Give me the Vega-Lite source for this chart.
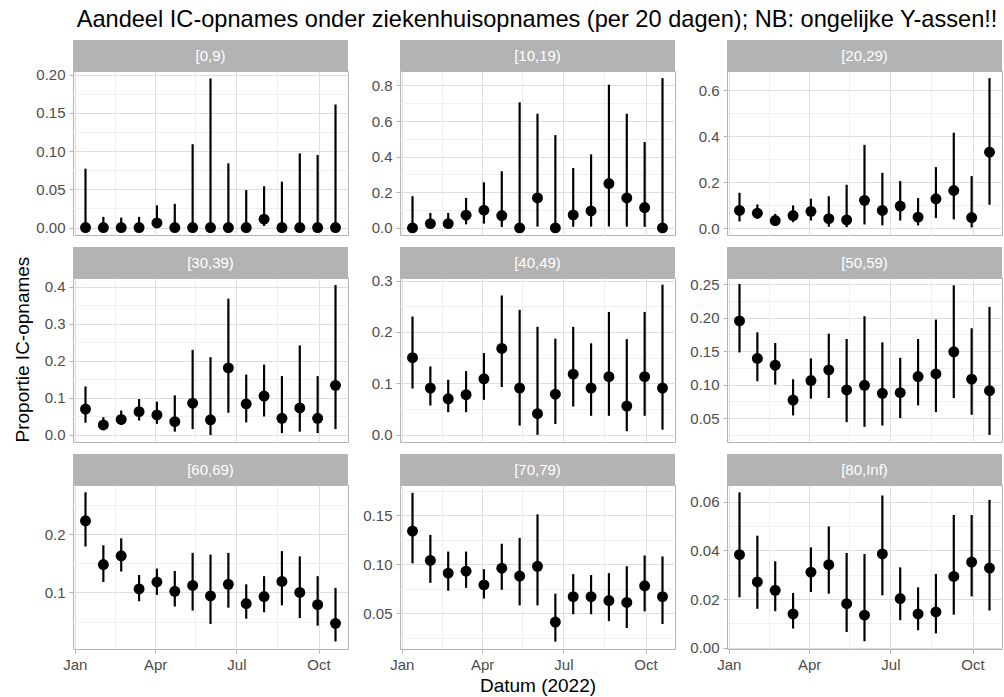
{
"$schema": "https://vega.github.io/schema/vega-lite/v6.json",
"background": "white",
"padding": {"left": 12, "top": 8, "right": 2, "bottom": 5},
"title": {"text": "Aandeel IC-opnames onder ziekenhuisopnames (per 20 dagen); NB: ongelijke Y-assen!!", "anchor": "start", "fontSize": 23.6, "fontWeight": "normal", "color": "black", "offset": 8, "dx": 64},
"config": {
  "font": "Liberation Sans",
  "view": {"stroke": "#B3B3B3", "strokeWidth": 1},
  "axis": {"domain": false, "labelFont": "Liberation Sans", "labelFontSize": 15, "labelColor": "#4D4D4D", "tickColor": "#B3B3B3", "tickSize": 4, "tickWidth": 1, "labelPadding": 4, "titleFont": "Liberation Sans", "titleFontSize": 19, "titleFontWeight": "normal", "titleColor": "black", "labelOverlap": false, "labelFlush": false, "labelBound": false}
},
"data": {"values": [
{"group":"[0,9)","date":"2022-01-13T00:00","p":0,"lo":0,"hi":0.077},
{"group":"[0,9)","date":"2022-02-02T00:00","p":0,"lo":0,"hi":0.014},
{"group":"[0,9)","date":"2022-02-22T00:00","p":0,"lo":0,"hi":0.013},
{"group":"[0,9)","date":"2022-03-14T00:00","p":0,"lo":0,"hi":0.014},
{"group":"[0,9)","date":"2022-04-03T00:00","p":0.006,"lo":0.001,"hi":0.029},
{"group":"[0,9)","date":"2022-04-23T00:00","p":0,"lo":0,"hi":0.031},
{"group":"[0,9)","date":"2022-05-13T00:00","p":0,"lo":0,"hi":0.109},
{"group":"[0,9)","date":"2022-06-02T00:00","p":0,"lo":0,"hi":0.195},
{"group":"[0,9)","date":"2022-06-22T00:00","p":0,"lo":0,"hi":0.084},
{"group":"[0,9)","date":"2022-07-12T00:00","p":0,"lo":0,"hi":0.049},
{"group":"[0,9)","date":"2022-08-01T00:00","p":0.011,"lo":0.002,"hi":0.054},
{"group":"[0,9)","date":"2022-08-21T00:00","p":0,"lo":0,"hi":0.060},
{"group":"[0,9)","date":"2022-09-10T00:00","p":0,"lo":0,"hi":0.097},
{"group":"[0,9)","date":"2022-09-30T00:00","p":0,"lo":0,"hi":0.095},
{"group":"[0,9)","date":"2022-10-20T00:00","p":0,"lo":0,"hi":0.161},
{"group":"[10,19)","date":"2022-01-13T00:00","p":0,"lo":0,"hi":0.178},
{"group":"[10,19)","date":"2022-02-02T00:00","p":0.024,"lo":0.005,"hi":0.084},
{"group":"[10,19)","date":"2022-02-22T00:00","p":0.024,"lo":0.005,"hi":0.084},
{"group":"[10,19)","date":"2022-03-14T00:00","p":0.071,"lo":0.02,"hi":0.168},
{"group":"[10,19)","date":"2022-04-03T00:00","p":0.099,"lo":0.024,"hi":0.256},
{"group":"[10,19)","date":"2022-04-23T00:00","p":0.069,"lo":0.005,"hi":0.318},
{"group":"[10,19)","date":"2022-05-13T00:00","p":0,"lo":0,"hi":0.705},
{"group":"[10,19)","date":"2022-06-02T00:00","p":0.168,"lo":0.007,"hi":0.641},
{"group":"[10,19)","date":"2022-06-22T00:00","p":0,"lo":0,"hi":0.521},
{"group":"[10,19)","date":"2022-07-12T00:00","p":0.073,"lo":0.006,"hi":0.336},
{"group":"[10,19)","date":"2022-08-01T00:00","p":0.095,"lo":0.007,"hi":0.413},
{"group":"[10,19)","date":"2022-08-21T00:00","p":0.249,"lo":0.008,"hi":0.804},
{"group":"[10,19)","date":"2022-09-10T00:00","p":0.168,"lo":0.007,"hi":0.641},
{"group":"[10,19)","date":"2022-09-30T00:00","p":0.114,"lo":0.006,"hi":0.482},
{"group":"[10,19)","date":"2022-10-20T00:00","p":0,"lo":0,"hi":0.841},
{"group":"[20,29)","date":"2022-01-13T00:00","p":0.077,"lo":0.029,"hi":0.154},
{"group":"[20,29)","date":"2022-02-02T00:00","p":0.065,"lo":0.041,"hi":0.103},
{"group":"[20,29)","date":"2022-02-22T00:00","p":0.033,"lo":0.012,"hi":0.062},
{"group":"[20,29)","date":"2022-03-14T00:00","p":0.055,"lo":0.026,"hi":0.099},
{"group":"[20,29)","date":"2022-04-03T00:00","p":0.073,"lo":0.033,"hi":0.128},
{"group":"[20,29)","date":"2022-04-23T00:00","p":0.041,"lo":0.006,"hi":0.139},
{"group":"[20,29)","date":"2022-05-13T00:00","p":0.036,"lo":0.004,"hi":0.189},
{"group":"[20,29)","date":"2022-06-02T00:00","p":0.121,"lo":0.016,"hi":0.363},
{"group":"[20,29)","date":"2022-06-22T00:00","p":0.077,"lo":0.012,"hi":0.241},
{"group":"[20,29)","date":"2022-07-12T00:00","p":0.096,"lo":0.033,"hi":0.205},
{"group":"[20,29)","date":"2022-08-01T00:00","p":0.048,"lo":0.012,"hi":0.131},
{"group":"[20,29)","date":"2022-08-21T00:00","p":0.128,"lo":0.044,"hi":0.266},
{"group":"[20,29)","date":"2022-09-10T00:00","p":0.164,"lo":0.038,"hi":0.416},
{"group":"[20,29)","date":"2022-09-30T00:00","p":0.046,"lo":0.003,"hi":0.227},
{"group":"[20,29)","date":"2022-10-20T00:00","p":0.331,"lo":0.102,"hi":0.654},
{"group":"[30,39)","date":"2022-01-13T00:00","p":0.070,"lo":0.033,"hi":0.131},
{"group":"[30,39)","date":"2022-02-02T00:00","p":0.027,"lo":0.016,"hi":0.048},
{"group":"[30,39)","date":"2022-02-22T00:00","p":0.042,"lo":0.027,"hi":0.066},
{"group":"[30,39)","date":"2022-03-14T00:00","p":0.063,"lo":0.039,"hi":0.097},
{"group":"[30,39)","date":"2022-04-03T00:00","p":0.054,"lo":0.030,"hi":0.090},
{"group":"[30,39)","date":"2022-04-23T00:00","p":0.036,"lo":0.009,"hi":0.107},
{"group":"[30,39)","date":"2022-05-13T00:00","p":0.086,"lo":0.016,"hi":0.230},
{"group":"[30,39)","date":"2022-06-02T00:00","p":0.041,"lo":0.0,"hi":0.210},
{"group":"[30,39)","date":"2022-06-22T00:00","p":0.181,"lo":0.060,"hi":0.368},
{"group":"[30,39)","date":"2022-07-12T00:00","p":0.084,"lo":0.034,"hi":0.163},
{"group":"[30,39)","date":"2022-08-01T00:00","p":0.105,"lo":0.050,"hi":0.190},
{"group":"[30,39)","date":"2022-08-21T00:00","p":0.045,"lo":0.005,"hi":0.159},
{"group":"[30,39)","date":"2022-09-10T00:00","p":0.073,"lo":0.009,"hi":0.242},
{"group":"[30,39)","date":"2022-09-30T00:00","p":0.045,"lo":0.005,"hi":0.159},
{"group":"[30,39)","date":"2022-10-20T00:00","p":0.134,"lo":0.016,"hi":0.405},
{"group":"[40,49)","date":"2022-01-13T00:00","p":0.150,"lo":0.090,"hi":0.230},
{"group":"[40,49)","date":"2022-02-02T00:00","p":0.091,"lo":0.057,"hi":0.133},
{"group":"[40,49)","date":"2022-02-22T00:00","p":0.070,"lo":0.044,"hi":0.107},
{"group":"[40,49)","date":"2022-03-14T00:00","p":0.078,"lo":0.044,"hi":0.124},
{"group":"[40,49)","date":"2022-04-03T00:00","p":0.109,"lo":0.068,"hi":0.159},
{"group":"[40,49)","date":"2022-04-23T00:00","p":0.168,"lo":0.093,"hi":0.271},
{"group":"[40,49)","date":"2022-05-13T00:00","p":0.091,"lo":0.018,"hi":0.243},
{"group":"[40,49)","date":"2022-06-02T00:00","p":0.041,"lo":0.0,"hi":0.210},
{"group":"[40,49)","date":"2022-06-22T00:00","p":0.079,"lo":0.021,"hi":0.187},
{"group":"[40,49)","date":"2022-07-12T00:00","p":0.118,"lo":0.055,"hi":0.210},
{"group":"[40,49)","date":"2022-08-01T00:00","p":0.091,"lo":0.037,"hi":0.178},
{"group":"[40,49)","date":"2022-08-21T00:00","p":0.113,"lo":0.037,"hi":0.239},
{"group":"[40,49)","date":"2022-09-10T00:00","p":0.056,"lo":0.007,"hi":0.186},
{"group":"[40,49)","date":"2022-09-30T00:00","p":0.113,"lo":0.037,"hi":0.239},
{"group":"[40,49)","date":"2022-10-20T00:00","p":0.091,"lo":0.010,"hi":0.292},
{"group":"[50,59)","date":"2022-01-13T00:00","p":0.195,"lo":0.148,"hi":0.250},
{"group":"[50,59)","date":"2022-02-02T00:00","p":0.139,"lo":0.105,"hi":0.178},
{"group":"[50,59)","date":"2022-02-22T00:00","p":0.129,"lo":0.100,"hi":0.162},
{"group":"[50,59)","date":"2022-03-14T00:00","p":0.077,"lo":0.054,"hi":0.108},
{"group":"[50,59)","date":"2022-04-03T00:00","p":0.106,"lo":0.079,"hi":0.139},
{"group":"[50,59)","date":"2022-04-23T00:00","p":0.122,"lo":0.080,"hi":0.176},
{"group":"[50,59)","date":"2022-05-13T00:00","p":0.092,"lo":0.044,"hi":0.168},
{"group":"[50,59)","date":"2022-06-02T00:00","p":0.099,"lo":0.037,"hi":0.202},
{"group":"[50,59)","date":"2022-06-22T00:00","p":0.087,"lo":0.039,"hi":0.163},
{"group":"[50,59)","date":"2022-07-12T00:00","p":0.088,"lo":0.050,"hi":0.140},
{"group":"[50,59)","date":"2022-08-01T00:00","p":0.112,"lo":0.069,"hi":0.168},
{"group":"[50,59)","date":"2022-08-21T00:00","p":0.116,"lo":0.059,"hi":0.197},
{"group":"[50,59)","date":"2022-09-10T00:00","p":0.149,"lo":0.080,"hi":0.248},
{"group":"[50,59)","date":"2022-09-30T00:00","p":0.108,"lo":0.055,"hi":0.184},
{"group":"[50,59)","date":"2022-10-20T00:00","p":0.091,"lo":0.025,"hi":0.216},
{"group":"[60,69)","date":"2022-01-13T00:00","p":0.223,"lo":0.179,"hi":0.272},
{"group":"[60,69)","date":"2022-02-02T00:00","p":0.148,"lo":0.118,"hi":0.181},
{"group":"[60,69)","date":"2022-02-22T00:00","p":0.163,"lo":0.136,"hi":0.193},
{"group":"[60,69)","date":"2022-03-14T00:00","p":0.106,"lo":0.085,"hi":0.130},
{"group":"[60,69)","date":"2022-04-03T00:00","p":0.118,"lo":0.096,"hi":0.141},
{"group":"[60,69)","date":"2022-04-23T00:00","p":0.102,"lo":0.076,"hi":0.137},
{"group":"[60,69)","date":"2022-05-13T00:00","p":0.112,"lo":0.069,"hi":0.168},
{"group":"[60,69)","date":"2022-06-02T00:00","p":0.094,"lo":0.046,"hi":0.165},
{"group":"[60,69)","date":"2022-06-22T00:00","p":0.114,"lo":0.074,"hi":0.168},
{"group":"[60,69)","date":"2022-07-12T00:00","p":0.081,"lo":0.055,"hi":0.114},
{"group":"[60,69)","date":"2022-08-01T00:00","p":0.093,"lo":0.066,"hi":0.128},
{"group":"[60,69)","date":"2022-08-21T00:00","p":0.119,"lo":0.078,"hi":0.171},
{"group":"[60,69)","date":"2022-09-10T00:00","p":0.100,"lo":0.056,"hi":0.162},
{"group":"[60,69)","date":"2022-09-30T00:00","p":0.079,"lo":0.043,"hi":0.128},
{"group":"[60,69)","date":"2022-10-20T00:00","p":0.047,"lo":0.016,"hi":0.108},
{"group":"[70,79)","date":"2022-01-13T00:00","p":0.134,"lo":0.101,"hi":0.173},
{"group":"[70,79)","date":"2022-02-02T00:00","p":0.104,"lo":0.081,"hi":0.130},
{"group":"[70,79)","date":"2022-02-22T00:00","p":0.091,"lo":0.073,"hi":0.113},
{"group":"[70,79)","date":"2022-03-14T00:00","p":0.093,"lo":0.076,"hi":0.113},
{"group":"[70,79)","date":"2022-04-03T00:00","p":0.079,"lo":0.065,"hi":0.095},
{"group":"[70,79)","date":"2022-04-23T00:00","p":0.096,"lo":0.074,"hi":0.121},
{"group":"[70,79)","date":"2022-05-13T00:00","p":0.088,"lo":0.058,"hi":0.127},
{"group":"[70,79)","date":"2022-06-02T00:00","p":0.098,"lo":0.058,"hi":0.151},
{"group":"[70,79)","date":"2022-06-22T00:00","p":0.041,"lo":0.021,"hi":0.070},
{"group":"[70,79)","date":"2022-07-12T00:00","p":0.067,"lo":0.049,"hi":0.090},
{"group":"[70,79)","date":"2022-08-01T00:00","p":0.067,"lo":0.049,"hi":0.089},
{"group":"[70,79)","date":"2022-08-21T00:00","p":0.063,"lo":0.042,"hi":0.091},
{"group":"[70,79)","date":"2022-09-10T00:00","p":0.061,"lo":0.035,"hi":0.098},
{"group":"[70,79)","date":"2022-09-30T00:00","p":0.078,"lo":0.052,"hi":0.109},
{"group":"[70,79)","date":"2022-10-20T00:00","p":0.067,"lo":0.039,"hi":0.108},
{"group":"[80,Inf)","date":"2022-01-13T00:00","p":0.0382,"lo":0.0207,"hi":0.0638},
{"group":"[80,Inf)","date":"2022-02-02T00:00","p":0.027,"lo":0.016,"hi":0.046},
{"group":"[80,Inf)","date":"2022-02-22T00:00","p":0.0236,"lo":0.015,"hi":0.0355},
{"group":"[80,Inf)","date":"2022-03-14T00:00","p":0.0139,"lo":0.0079,"hi":0.0225},
{"group":"[80,Inf)","date":"2022-04-03T00:00","p":0.031,"lo":0.0229,"hi":0.0412},
{"group":"[80,Inf)","date":"2022-04-23T00:00","p":0.0341,"lo":0.0222,"hi":0.0498},
{"group":"[80,Inf)","date":"2022-05-13T00:00","p":0.0181,"lo":0.0065,"hi":0.0389},
{"group":"[80,Inf)","date":"2022-06-02T00:00","p":0.0134,"lo":0.0027,"hi":0.0385},
{"group":"[80,Inf)","date":"2022-06-22T00:00","p":0.0385,"lo":0.0215,"hi":0.0625},
{"group":"[80,Inf)","date":"2022-07-12T00:00","p":0.0202,"lo":0.0113,"hi":0.033},
{"group":"[80,Inf)","date":"2022-08-01T00:00","p":0.0139,"lo":0.0072,"hi":0.0248},
{"group":"[80,Inf)","date":"2022-08-21T00:00","p":0.0147,"lo":0.0059,"hi":0.0303},
{"group":"[80,Inf)","date":"2022-09-10T00:00","p":0.0293,"lo":0.0136,"hi":0.0545},
{"group":"[80,Inf)","date":"2022-09-30T00:00","p":0.0352,"lo":0.0211,"hi":0.0545},
{"group":"[80,Inf)","date":"2022-10-20T00:00","p":0.0327,"lo":0.0153,"hi":0.0607}
]},
"columns": 3,
"align": "each",
"spacing": {"row": 10, "column": 13},
"concat": [
{"vconcat": [
 {"width": 275, "height": 31, "view": {"fill": "#B3B3B3", "stroke": null},
  "transform": [{"filter": "datum.group == '[0,9)'"}, {"aggregate": [{"op": "count", "as": "n"}], "groupby": ["group"]}],
  "mark": {"type": "text", "color": "white", "fontSize": 15}, "encoding": {"text": {"field": "group"}}},
 {"width": 275, "height": 164,
  "transform": [{"filter": "datum.group == '[0,9)'"}],
  "encoding": {"x": {"field": "date", "type": "temporal", "title": null, "scale": {"domain": [{"year":2021,"month":12,"date":30},{"year":2022,"month":11,"date":3}]}, "axis": {"values": [{"year":2022,"month":1,"date":1},{"year":2022,"month":2,"date":15},{"year":2022,"month":4,"date":1},{"year":2022,"month":5,"date":16},{"year":2022,"month":7,"date":1},{"year":2022,"month":8,"date":16},{"year":2022,"month":10,"date":1}], "labels": false, "ticks": false, "gridColor": {"condition": {"test": "date(datum.value)==1", "value": "#DEDEDE"}, "value": "#EFEFEF"}}}},
  "layer": [
   {"mark": {"type": "rule", "color": "black", "strokeWidth": 2.2},
    "encoding": {"y": {"field": "lo", "type": "quantitative", "title": null, "scale": {"domain": [-0.00975, 0.2048], "nice": false, "zero": false}, "axis": {"values": [0,0.025,0.05,0.075,0.1,0.125,0.15,0.175,0.2], "format": ".2f", "labelExpr": "abs(datum.value/0.05 - round(datum.value/0.05)) < 0.01 ? datum.label : ''", "tickOpacity": {"condition": {"test": "abs(datum.value/0.05 - round(datum.value/0.05)) < 0.01", "value": 1}, "value": 0}, "gridColor": {"condition": {"test": "abs(datum.value/0.05 - round(datum.value/0.05)) < 0.01", "value": "#DEDEDE"}, "value": "#EFEFEF"}}}, "y2": {"field": "hi"}}},
   {"mark": {"type": "circle", "color": "black", "opacity": 1, "size": 120},
    "encoding": {"y": {"field": "p", "type": "quantitative", "title": null, "scale": {"domain": [-0.00975, 0.2048], "nice": false, "zero": false}, "axis": {"values": [0,0.025,0.05,0.075,0.1,0.125,0.15,0.175,0.2], "format": ".2f", "labelExpr": "abs(datum.value/0.05 - round(datum.value/0.05)) < 0.01 ? datum.label : ''", "tickOpacity": {"condition": {"test": "abs(datum.value/0.05 - round(datum.value/0.05)) < 0.01", "value": 1}, "value": 0}, "gridColor": {"condition": {"test": "abs(datum.value/0.05 - round(datum.value/0.05)) < 0.01", "value": "#DEDEDE"}, "value": "#EFEFEF"}}}}}
  ]}
], "spacing": 0, "bounds": "flush"},
{"vconcat": [
 {"width": 275, "height": 31, "view": {"fill": "#B3B3B3", "stroke": null},
  "transform": [{"filter": "datum.group == '[10,19)'"}, {"aggregate": [{"op": "count", "as": "n"}], "groupby": ["group"]}],
  "mark": {"type": "text", "color": "white", "fontSize": 15}, "encoding": {"text": {"field": "group"}}},
 {"width": 275, "height": 164,
  "transform": [{"filter": "datum.group == '[10,19)'"}],
  "encoding": {"x": {"field": "date", "type": "temporal", "title": null, "scale": {"domain": [{"year":2021,"month":12,"date":30},{"year":2022,"month":11,"date":3}]}, "axis": {"values": [{"year":2022,"month":1,"date":1},{"year":2022,"month":2,"date":15},{"year":2022,"month":4,"date":1},{"year":2022,"month":5,"date":16},{"year":2022,"month":7,"date":1},{"year":2022,"month":8,"date":16},{"year":2022,"month":10,"date":1}], "labels": false, "ticks": false, "gridColor": {"condition": {"test": "date(datum.value)==1", "value": "#DEDEDE"}, "value": "#EFEFEF"}}}},
  "layer": [
   {"mark": {"type": "rule", "color": "black", "strokeWidth": 2.2},
    "encoding": {"y": {"field": "lo", "type": "quantitative", "title": null, "scale": {"domain": [-0.04, 0.881], "nice": false, "zero": false}, "axis": {"values": [0,0.1,0.2,0.3,0.4,0.5,0.6,0.7,0.8], "format": ".1f", "labelExpr": "abs(datum.value/0.2 - round(datum.value/0.2)) < 0.01 ? datum.label : ''", "tickOpacity": {"condition": {"test": "abs(datum.value/0.2 - round(datum.value/0.2)) < 0.01", "value": 1}, "value": 0}, "gridColor": {"condition": {"test": "abs(datum.value/0.2 - round(datum.value/0.2)) < 0.01", "value": "#DEDEDE"}, "value": "#EFEFEF"}}}, "y2": {"field": "hi"}}},
   {"mark": {"type": "circle", "color": "black", "opacity": 1, "size": 120},
    "encoding": {"y": {"field": "p", "type": "quantitative", "title": null, "scale": {"domain": [-0.04, 0.881], "nice": false, "zero": false}, "axis": {"values": [0,0.1,0.2,0.3,0.4,0.5,0.6,0.7,0.8], "format": ".1f", "labelExpr": "abs(datum.value/0.2 - round(datum.value/0.2)) < 0.01 ? datum.label : ''", "tickOpacity": {"condition": {"test": "abs(datum.value/0.2 - round(datum.value/0.2)) < 0.01", "value": 1}, "value": 0}, "gridColor": {"condition": {"test": "abs(datum.value/0.2 - round(datum.value/0.2)) < 0.01", "value": "#DEDEDE"}, "value": "#EFEFEF"}}}}}
  ]}
], "spacing": 0, "bounds": "flush"},
{"vconcat": [
 {"width": 275, "height": 31, "view": {"fill": "#B3B3B3", "stroke": null},
  "transform": [{"filter": "datum.group == '[20,29)'"}, {"aggregate": [{"op": "count", "as": "n"}], "groupby": ["group"]}],
  "mark": {"type": "text", "color": "white", "fontSize": 15}, "encoding": {"text": {"field": "group"}}},
 {"width": 275, "height": 164,
  "transform": [{"filter": "datum.group == '[20,29)'"}],
  "encoding": {"x": {"field": "date", "type": "temporal", "title": null, "scale": {"domain": [{"year":2021,"month":12,"date":30},{"year":2022,"month":11,"date":3}]}, "axis": {"values": [{"year":2022,"month":1,"date":1},{"year":2022,"month":2,"date":15},{"year":2022,"month":4,"date":1},{"year":2022,"month":5,"date":16},{"year":2022,"month":7,"date":1},{"year":2022,"month":8,"date":16},{"year":2022,"month":10,"date":1}], "labels": false, "ticks": false, "gridColor": {"condition": {"test": "date(datum.value)==1", "value": "#DEDEDE"}, "value": "#EFEFEF"}}}},
  "layer": [
   {"mark": {"type": "rule", "color": "black", "strokeWidth": 2.2},
    "encoding": {"y": {"field": "lo", "type": "quantitative", "title": null, "scale": {"domain": [-0.03, 0.685], "nice": false, "zero": false}, "axis": {"values": [0,0.1,0.2,0.3,0.4,0.5,0.6], "format": ".1f", "labelExpr": "abs(datum.value/0.2 - round(datum.value/0.2)) < 0.01 ? datum.label : ''", "tickOpacity": {"condition": {"test": "abs(datum.value/0.2 - round(datum.value/0.2)) < 0.01", "value": 1}, "value": 0}, "gridColor": {"condition": {"test": "abs(datum.value/0.2 - round(datum.value/0.2)) < 0.01", "value": "#DEDEDE"}, "value": "#EFEFEF"}}}, "y2": {"field": "hi"}}},
   {"mark": {"type": "circle", "color": "black", "opacity": 1, "size": 120},
    "encoding": {"y": {"field": "p", "type": "quantitative", "title": null, "scale": {"domain": [-0.03, 0.685], "nice": false, "zero": false}, "axis": {"values": [0,0.1,0.2,0.3,0.4,0.5,0.6], "format": ".1f", "labelExpr": "abs(datum.value/0.2 - round(datum.value/0.2)) < 0.01 ? datum.label : ''", "tickOpacity": {"condition": {"test": "abs(datum.value/0.2 - round(datum.value/0.2)) < 0.01", "value": 1}, "value": 0}, "gridColor": {"condition": {"test": "abs(datum.value/0.2 - round(datum.value/0.2)) < 0.01", "value": "#DEDEDE"}, "value": "#EFEFEF"}}}}}
  ]}
], "spacing": 0, "bounds": "flush"},
{"vconcat": [
 {"width": 275, "height": 31, "view": {"fill": "#B3B3B3", "stroke": null},
  "transform": [{"filter": "datum.group == '[30,39)'"}, {"aggregate": [{"op": "count", "as": "n"}], "groupby": ["group"]}],
  "mark": {"type": "text", "color": "white", "fontSize": 15}, "encoding": {"text": {"field": "group"}}},
 {"width": 275, "height": 164,
  "transform": [{"filter": "datum.group == '[30,39)'"}],
  "encoding": {"x": {"field": "date", "type": "temporal", "title": null, "scale": {"domain": [{"year":2021,"month":12,"date":30},{"year":2022,"month":11,"date":3}]}, "axis": {"values": [{"year":2022,"month":1,"date":1},{"year":2022,"month":2,"date":15},{"year":2022,"month":4,"date":1},{"year":2022,"month":5,"date":16},{"year":2022,"month":7,"date":1},{"year":2022,"month":8,"date":16},{"year":2022,"month":10,"date":1}], "labels": false, "ticks": false, "gridColor": {"condition": {"test": "date(datum.value)==1", "value": "#DEDEDE"}, "value": "#EFEFEF"}}}},
  "layer": [
   {"mark": {"type": "rule", "color": "black", "strokeWidth": 2.2},
    "encoding": {"y": {"field": "lo", "type": "quantitative", "title": "Proportie IC-opnames", "scale": {"domain": [-0.019, 0.424], "nice": false, "zero": false}, "axis": {"titlePadding": 12, "titleAlign": "left", "titleY": 164, "values": [0,0.05,0.1,0.15,0.2,0.25,0.3,0.35,0.4], "format": ".1f", "labelExpr": "abs(datum.value/0.1 - round(datum.value/0.1)) < 0.01 ? datum.label : ''", "tickOpacity": {"condition": {"test": "abs(datum.value/0.1 - round(datum.value/0.1)) < 0.01", "value": 1}, "value": 0}, "gridColor": {"condition": {"test": "abs(datum.value/0.1 - round(datum.value/0.1)) < 0.01", "value": "#DEDEDE"}, "value": "#EFEFEF"}}}, "y2": {"field": "hi"}}},
   {"mark": {"type": "circle", "color": "black", "opacity": 1, "size": 120},
    "encoding": {"y": {"field": "p", "type": "quantitative", "title": "Proportie IC-opnames", "scale": {"domain": [-0.019, 0.424], "nice": false, "zero": false}, "axis": {"titlePadding": 12, "titleAlign": "left", "titleY": 164, "values": [0,0.05,0.1,0.15,0.2,0.25,0.3,0.35,0.4], "format": ".1f", "labelExpr": "abs(datum.value/0.1 - round(datum.value/0.1)) < 0.01 ? datum.label : ''", "tickOpacity": {"condition": {"test": "abs(datum.value/0.1 - round(datum.value/0.1)) < 0.01", "value": 1}, "value": 0}, "gridColor": {"condition": {"test": "abs(datum.value/0.1 - round(datum.value/0.1)) < 0.01", "value": "#DEDEDE"}, "value": "#EFEFEF"}}}}}
  ]}
], "spacing": 0, "bounds": "flush"},
{"vconcat": [
 {"width": 275, "height": 31, "view": {"fill": "#B3B3B3", "stroke": null},
  "transform": [{"filter": "datum.group == '[40,49)'"}, {"aggregate": [{"op": "count", "as": "n"}], "groupby": ["group"]}],
  "mark": {"type": "text", "color": "white", "fontSize": 15}, "encoding": {"text": {"field": "group"}}},
 {"width": 275, "height": 164,
  "transform": [{"filter": "datum.group == '[40,49)'"}],
  "encoding": {"x": {"field": "date", "type": "temporal", "title": null, "scale": {"domain": [{"year":2021,"month":12,"date":30},{"year":2022,"month":11,"date":3}]}, "axis": {"values": [{"year":2022,"month":1,"date":1},{"year":2022,"month":2,"date":15},{"year":2022,"month":4,"date":1},{"year":2022,"month":5,"date":16},{"year":2022,"month":7,"date":1},{"year":2022,"month":8,"date":16},{"year":2022,"month":10,"date":1}], "labels": false, "ticks": false, "gridColor": {"condition": {"test": "date(datum.value)==1", "value": "#DEDEDE"}, "value": "#EFEFEF"}}}},
  "layer": [
   {"mark": {"type": "rule", "color": "black", "strokeWidth": 2.2},
    "encoding": {"y": {"field": "lo", "type": "quantitative", "title": null, "scale": {"domain": [-0.014, 0.305], "nice": false, "zero": false}, "axis": {"values": [0,0.05,0.1,0.15,0.2,0.25,0.3], "format": ".1f", "labelExpr": "abs(datum.value/0.1 - round(datum.value/0.1)) < 0.01 ? datum.label : ''", "tickOpacity": {"condition": {"test": "abs(datum.value/0.1 - round(datum.value/0.1)) < 0.01", "value": 1}, "value": 0}, "gridColor": {"condition": {"test": "abs(datum.value/0.1 - round(datum.value/0.1)) < 0.01", "value": "#DEDEDE"}, "value": "#EFEFEF"}}}, "y2": {"field": "hi"}}},
   {"mark": {"type": "circle", "color": "black", "opacity": 1, "size": 120},
    "encoding": {"y": {"field": "p", "type": "quantitative", "title": null, "scale": {"domain": [-0.014, 0.305], "nice": false, "zero": false}, "axis": {"values": [0,0.05,0.1,0.15,0.2,0.25,0.3], "format": ".1f", "labelExpr": "abs(datum.value/0.1 - round(datum.value/0.1)) < 0.01 ? datum.label : ''", "tickOpacity": {"condition": {"test": "abs(datum.value/0.1 - round(datum.value/0.1)) < 0.01", "value": 1}, "value": 0}, "gridColor": {"condition": {"test": "abs(datum.value/0.1 - round(datum.value/0.1)) < 0.01", "value": "#DEDEDE"}, "value": "#EFEFEF"}}}}}
  ]}
], "spacing": 0, "bounds": "flush"},
{"vconcat": [
 {"width": 275, "height": 31, "view": {"fill": "#B3B3B3", "stroke": null},
  "transform": [{"filter": "datum.group == '[50,59)'"}, {"aggregate": [{"op": "count", "as": "n"}], "groupby": ["group"]}],
  "mark": {"type": "text", "color": "white", "fontSize": 15}, "encoding": {"text": {"field": "group"}}},
 {"width": 275, "height": 164,
  "transform": [{"filter": "datum.group == '[50,59)'"}],
  "encoding": {"x": {"field": "date", "type": "temporal", "title": null, "scale": {"domain": [{"year":2021,"month":12,"date":30},{"year":2022,"month":11,"date":3}]}, "axis": {"values": [{"year":2022,"month":1,"date":1},{"year":2022,"month":2,"date":15},{"year":2022,"month":4,"date":1},{"year":2022,"month":5,"date":16},{"year":2022,"month":7,"date":1},{"year":2022,"month":8,"date":16},{"year":2022,"month":10,"date":1}], "labels": false, "ticks": false, "gridColor": {"condition": {"test": "date(datum.value)==1", "value": "#DEDEDE"}, "value": "#EFEFEF"}}}},
  "layer": [
   {"mark": {"type": "rule", "color": "black", "strokeWidth": 2.2},
    "encoding": {"y": {"field": "lo", "type": "quantitative", "title": null, "scale": {"domain": [0.0144, 0.259], "nice": false, "zero": false}, "axis": {"values": [0.025,0.05,0.075,0.1,0.125,0.15,0.175,0.2,0.225,0.25], "format": ".2f", "labelExpr": "abs(datum.value/0.05 - round(datum.value/0.05)) < 0.01 ? datum.label : ''", "tickOpacity": {"condition": {"test": "abs(datum.value/0.05 - round(datum.value/0.05)) < 0.01", "value": 1}, "value": 0}, "gridColor": {"condition": {"test": "abs(datum.value/0.05 - round(datum.value/0.05)) < 0.01", "value": "#DEDEDE"}, "value": "#EFEFEF"}}}, "y2": {"field": "hi"}}},
   {"mark": {"type": "circle", "color": "black", "opacity": 1, "size": 120},
    "encoding": {"y": {"field": "p", "type": "quantitative", "title": null, "scale": {"domain": [0.0144, 0.259], "nice": false, "zero": false}, "axis": {"values": [0.025,0.05,0.075,0.1,0.125,0.15,0.175,0.2,0.225,0.25], "format": ".2f", "labelExpr": "abs(datum.value/0.05 - round(datum.value/0.05)) < 0.01 ? datum.label : ''", "tickOpacity": {"condition": {"test": "abs(datum.value/0.05 - round(datum.value/0.05)) < 0.01", "value": 1}, "value": 0}, "gridColor": {"condition": {"test": "abs(datum.value/0.05 - round(datum.value/0.05)) < 0.01", "value": "#DEDEDE"}, "value": "#EFEFEF"}}}}}
  ]}
], "spacing": 0, "bounds": "flush"},
{"vconcat": [
 {"width": 275, "height": 31, "view": {"fill": "#B3B3B3", "stroke": null},
  "transform": [{"filter": "datum.group == '[60,69)'"}, {"aggregate": [{"op": "count", "as": "n"}], "groupby": ["group"]}],
  "mark": {"type": "text", "color": "white", "fontSize": 15}, "encoding": {"text": {"field": "group"}}},
 {"width": 275, "height": 164,
  "transform": [{"filter": "datum.group == '[60,69)'"}],
  "encoding": {"x": {"field": "date", "type": "temporal", "title": null, "scale": {"domain": [{"year":2021,"month":12,"date":30},{"year":2022,"month":11,"date":3}]}, "axis": {"values": [{"year":2022,"month":1,"date":1},{"year":2022,"month":2,"date":15},{"year":2022,"month":4,"date":1},{"year":2022,"month":5,"date":16},{"year":2022,"month":7,"date":1},{"year":2022,"month":8,"date":16},{"year":2022,"month":10,"date":1}], "labelExpr": "date(datum.value)==1 ? timeFormat(datum.value, '%b') : ''", "tickOpacity": {"condition": {"test": "date(datum.value)==1", "value": 1}, "value": 0}, "gridColor": {"condition": {"test": "date(datum.value)==1", "value": "#DEDEDE"}, "value": "#EFEFEF"}}}},
  "layer": [
   {"mark": {"type": "rule", "color": "black", "strokeWidth": 2.2},
    "encoding": {"y": {"field": "lo", "type": "quantitative", "title": null, "scale": {"domain": [0.003, 0.2845], "nice": false, "zero": false}, "axis": {"values": [0.05,0.1,0.15,0.2,0.25], "format": ".1f", "labelExpr": "abs(datum.value/0.1 - round(datum.value/0.1)) < 0.01 ? datum.label : ''", "tickOpacity": {"condition": {"test": "abs(datum.value/0.1 - round(datum.value/0.1)) < 0.01", "value": 1}, "value": 0}, "gridColor": {"condition": {"test": "abs(datum.value/0.1 - round(datum.value/0.1)) < 0.01", "value": "#DEDEDE"}, "value": "#EFEFEF"}}}, "y2": {"field": "hi"}}},
   {"mark": {"type": "circle", "color": "black", "opacity": 1, "size": 120},
    "encoding": {"y": {"field": "p", "type": "quantitative", "title": null, "scale": {"domain": [0.003, 0.2845], "nice": false, "zero": false}, "axis": {"values": [0.05,0.1,0.15,0.2,0.25], "format": ".1f", "labelExpr": "abs(datum.value/0.1 - round(datum.value/0.1)) < 0.01 ? datum.label : ''", "tickOpacity": {"condition": {"test": "abs(datum.value/0.1 - round(datum.value/0.1)) < 0.01", "value": 1}, "value": 0}, "gridColor": {"condition": {"test": "abs(datum.value/0.1 - round(datum.value/0.1)) < 0.01", "value": "#DEDEDE"}, "value": "#EFEFEF"}}}}}
  ]}
], "spacing": 0, "bounds": "flush"},
{"vconcat": [
 {"width": 275, "height": 31, "view": {"fill": "#B3B3B3", "stroke": null},
  "transform": [{"filter": "datum.group == '[70,79)'"}, {"aggregate": [{"op": "count", "as": "n"}], "groupby": ["group"]}],
  "mark": {"type": "text", "color": "white", "fontSize": 15}, "encoding": {"text": {"field": "group"}}},
 {"width": 275, "height": 164,
  "transform": [{"filter": "datum.group == '[70,79)'"}],
  "encoding": {"x": {"field": "date", "type": "temporal", "title": "Datum (2022)", "scale": {"domain": [{"year":2021,"month":12,"date":30},{"year":2022,"month":11,"date":3}]}, "axis": {"titlePadding": 4, "values": [{"year":2022,"month":1,"date":1},{"year":2022,"month":2,"date":15},{"year":2022,"month":4,"date":1},{"year":2022,"month":5,"date":16},{"year":2022,"month":7,"date":1},{"year":2022,"month":8,"date":16},{"year":2022,"month":10,"date":1}], "labelExpr": "date(datum.value)==1 ? timeFormat(datum.value, '%b') : ''", "tickOpacity": {"condition": {"test": "date(datum.value)==1", "value": 1}, "value": 0}, "gridColor": {"condition": {"test": "date(datum.value)==1", "value": "#DEDEDE"}, "value": "#EFEFEF"}}}},
  "layer": [
   {"mark": {"type": "rule", "color": "black", "strokeWidth": 2.2},
    "encoding": {"y": {"field": "lo", "type": "quantitative", "title": null, "scale": {"domain": [0.0135, 0.181], "nice": false, "zero": false}, "axis": {"values": [0.025,0.05,0.075,0.1,0.125,0.15,0.175], "format": ".2f", "labelExpr": "abs(datum.value/0.05 - round(datum.value/0.05)) < 0.01 ? datum.label : ''", "tickOpacity": {"condition": {"test": "abs(datum.value/0.05 - round(datum.value/0.05)) < 0.01", "value": 1}, "value": 0}, "gridColor": {"condition": {"test": "abs(datum.value/0.05 - round(datum.value/0.05)) < 0.01", "value": "#DEDEDE"}, "value": "#EFEFEF"}}}, "y2": {"field": "hi"}}},
   {"mark": {"type": "circle", "color": "black", "opacity": 1, "size": 120},
    "encoding": {"y": {"field": "p", "type": "quantitative", "title": null, "scale": {"domain": [0.0135, 0.181], "nice": false, "zero": false}, "axis": {"values": [0.025,0.05,0.075,0.1,0.125,0.15,0.175], "format": ".2f", "labelExpr": "abs(datum.value/0.05 - round(datum.value/0.05)) < 0.01 ? datum.label : ''", "tickOpacity": {"condition": {"test": "abs(datum.value/0.05 - round(datum.value/0.05)) < 0.01", "value": 1}, "value": 0}, "gridColor": {"condition": {"test": "abs(datum.value/0.05 - round(datum.value/0.05)) < 0.01", "value": "#DEDEDE"}, "value": "#EFEFEF"}}}}}
  ]}
], "spacing": 0, "bounds": "flush"},
{"vconcat": [
 {"width": 275, "height": 31, "view": {"fill": "#B3B3B3", "stroke": null},
  "transform": [{"filter": "datum.group == '[80,Inf)'"}, {"aggregate": [{"op": "count", "as": "n"}], "groupby": ["group"]}],
  "mark": {"type": "text", "color": "white", "fontSize": 15}, "encoding": {"text": {"field": "group"}}},
 {"width": 275, "height": 164,
  "transform": [{"filter": "datum.group == '[80,Inf)'"}],
  "encoding": {"x": {"field": "date", "type": "temporal", "title": null, "scale": {"domain": [{"year":2021,"month":12,"date":30},{"year":2022,"month":11,"date":3}]}, "axis": {"values": [{"year":2022,"month":1,"date":1},{"year":2022,"month":2,"date":15},{"year":2022,"month":4,"date":1},{"year":2022,"month":5,"date":16},{"year":2022,"month":7,"date":1},{"year":2022,"month":8,"date":16},{"year":2022,"month":10,"date":1}], "labelExpr": "date(datum.value)==1 ? timeFormat(datum.value, '%b') : ''", "tickOpacity": {"condition": {"test": "date(datum.value)==1", "value": 1}, "value": 0}, "gridColor": {"condition": {"test": "date(datum.value)==1", "value": "#DEDEDE"}, "value": "#EFEFEF"}}}},
  "layer": [
   {"mark": {"type": "rule", "color": "black", "strokeWidth": 2.2},
    "encoding": {"y": {"field": "lo", "type": "quantitative", "title": null, "scale": {"domain": [-0.0005, 0.0668], "nice": false, "zero": false}, "axis": {"values": [0,0.01,0.02,0.03,0.04,0.05,0.06], "format": ".2f", "labelExpr": "abs(datum.value/0.02 - round(datum.value/0.02)) < 0.01 ? datum.label : ''", "tickOpacity": {"condition": {"test": "abs(datum.value/0.02 - round(datum.value/0.02)) < 0.01", "value": 1}, "value": 0}, "gridColor": {"condition": {"test": "abs(datum.value/0.02 - round(datum.value/0.02)) < 0.01", "value": "#DEDEDE"}, "value": "#EFEFEF"}}}, "y2": {"field": "hi"}}},
   {"mark": {"type": "circle", "color": "black", "opacity": 1, "size": 120},
    "encoding": {"y": {"field": "p", "type": "quantitative", "title": null, "scale": {"domain": [-0.0005, 0.0668], "nice": false, "zero": false}, "axis": {"values": [0,0.01,0.02,0.03,0.04,0.05,0.06], "format": ".2f", "labelExpr": "abs(datum.value/0.02 - round(datum.value/0.02)) < 0.01 ? datum.label : ''", "tickOpacity": {"condition": {"test": "abs(datum.value/0.02 - round(datum.value/0.02)) < 0.01", "value": 1}, "value": 0}, "gridColor": {"condition": {"test": "abs(datum.value/0.02 - round(datum.value/0.02)) < 0.01", "value": "#DEDEDE"}, "value": "#EFEFEF"}}}}}
  ]}
], "spacing": 0, "bounds": "flush"}
]
}
